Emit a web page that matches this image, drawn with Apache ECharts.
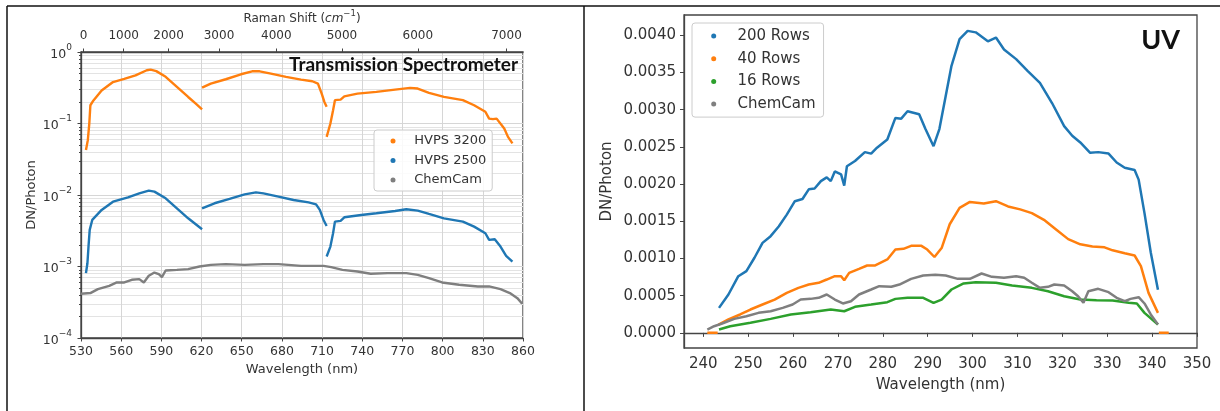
<!DOCTYPE html>
<html>
<head>
<meta charset="utf-8">
<script src="https://cdn.jsdelivr.net/npm/echarts@6/dist/echarts.min.js"></script>
<style>
html,body{margin:0;padding:0;background:#fff;}
#c{width:1220px;height:411px;}
</style>
</head>
<body>
<div id="c"></div>
<script>
// ---------- tick labels ----------
const wavelengthTicks = [530, 560, 590, 620, 650, 680, 710, 740, 770, 800, 830, 860];
const ramanTicks = [0, 1000, 2000, 3000, 4000, 5000, 6000, 7000];
const laserNm = 532;
const logDecades = [1e-4, 1e-3, 1e-2, 1e-1, 1];
const minorMultipliers = [2, 3, 4, 5, 6, 7, 8, 9];
const uvXTicks = [240, 250, 260, 270, 280, 290, 300, 310, 320, 330, 340, 350];
const uvYTicks = [0, 0.0005, 0.0010, 0.0015, 0.0020, 0.0025, 0.0030, 0.0035, 0.0040];

// ---------- Transmission spectrometer (wavelength nm, DN/photon) ----------
const hvps3200A = [[533.7,0.0425],[535.1,0.0585],[536.2,0.1],[537,0.18],[539.3,0.21],[545.4,0.29],[553.9,0.38],[562.3,0.42],[570.7,0.47],[579.1,0.555],[582,0.567],[586.2,0.54],[593.2,0.45],[601.6,0.325],[610,0.235],[615.7,0.19],[620.4,0.158]];
const hvps3200B = [[620.4,0.318],[626.9,0.361],[638.1,0.416],[649.4,0.488],[657.8,0.537],[663.4,0.537],[671.8,0.499],[683.1,0.448],[694.3,0.411],[702.7,0.39],[706.9,0.361],[709.7,0.262],[711.7,0.2],[713.4,0.171]];
const hvps3200C = [[713.4,0.065],[716.2,0.1],[718.2,0.153],[719.6,0.212],[723.8,0.216],[726.6,0.24],[736.4,0.262],[750.5,0.277],[764.5,0.298],[775.7,0.315],[781.4,0.308],[789.8,0.268],[801,0.236],[815.1,0.212],[823.5,0.18],[831.9,0.146],[834.7,0.117],[837.5,0.115],[840.3,0.117],[846,0.085],[848.8,0.065],[852.1,0.0526]];
const hvps2500A = [[533.7,0.000807],[534.8,0.00111],[535.6,0.0019],[536.5,0.00325],[538.4,0.00448],[545.4,0.00618],[553.9,0.00807],[565.1,0.00927],[573.5,0.01055],[580.6,0.01149],[584.8,0.01114],[593.2,0.00898],[601.6,0.00652],[610,0.00472],[620.4,0.00332]];
const hvps2500B = [[620.4,0.00652],[629.7,0.00766],[640.9,0.0088],[652.2,0.0102],[660.6,0.0109],[666.2,0.01055],[677.4,0.00948],[688.7,0.00851],[699.9,0.0079],[705.5,0.00741],[708.3,0.00618],[711.1,0.00448],[713.4,0.00369]];
const hvps2500C = [[713.4,0.00138],[716.2,0.0019],[718.2,0.00292],[719.6,0.00425],[723.8,0.00434],[726.6,0.00488],[739.2,0.00526],[750.5,0.00555],[764.5,0.00598],[772.9,0.00631],[781.4,0.00604],[789.8,0.00543],[801,0.00472],[815.1,0.00425],[823.5,0.00361],[831.9,0.00292],[834.7,0.00236],[838.9,0.0024],[843.2,0.0019],[847.4,0.00141],[852.1,0.00117]];
const chemcamVis = [[530,0.000416],[537,0.000425],[542.6,0.000483],[551.1,0.000537],[556.7,0.000598],[562.3,0.000598],[567.9,0.000652],[573.5,0.000666],[576.9,0.000598],[580.6,0.000741],[584.8,0.000824],[588.1,0.000782],[590.4,0.00071],[593.2,0.000879],[601.6,0.000898],[610,0.000918],[618.5,0.001],[626.9,0.001055],[638.1,0.00108],[652.2,0.001055],[666.2,0.00108],[677.4,0.00108],[694.3,0.00102],[711.1,0.00102],[716.8,0.00098],[725.2,0.000898],[736.4,0.000851],[746.3,0.000791],[758.9,0.000807],[772.9,0.000807],[781.4,0.000765],[789.8,0.000688],[799.6,0.000598],[812.3,0.000555],[826.3,0.000526],[834.7,0.000526],[843.2,0.000483],[850.2,0.000425],[855.8,0.000361],[859.4,0.000301]];

// ---------- UV (wavelength nm, DN/photon) ----------
const uv200 = [[243.5,0.000336],[245.6,0.000516],[247.8,0.000762],[249.6,0.00083],[251.4,0.00101],[253.2,0.00121],[255,0.0013],[256.8,0.00143],[258.6,0.00159],[260.4,0.00177],[262.1,0.0018],[263.5,0.00193],[264.8,0.00194],[266.2,0.00204],[267.5,0.00209],[268.4,0.00204],[269.3,0.00217],[270.7,0.00213],[271.4,0.00198],[272,0.00224],[273.8,0.00231],[276,0.00243],[277.4,0.00241],[278.7,0.00249],[281,0.0026],[282.8,0.00289],[284.1,0.00288],[285.5,0.00298],[286.8,0.00296],[288.1,0.00294],[289.5,0.00274],[291.3,0.00251],[292.6,0.00274],[294,0.00318],[295.3,0.00359],[297.1,0.00395],[298.9,0.00406],[300.7,0.00404],[303.4,0.00392],[305.2,0.00397],[307,0.00381],[309.7,0.00368],[312.3,0.00352],[315,0.00336],[317.7,0.00309],[320.4,0.00278],[322.2,0.00265],[324,0.00256],[326.2,0.00242],[328,0.00243],[330.3,0.00241],[332.1,0.00229],[333.9,0.00222],[336.1,0.00219],[337,0.00206],[338.3,0.00161],[339.7,0.00108],[341.3,0.00058]];
const uv40 = [[243.4,0.000112],[245.6,0.00018],[248.2,0.000247],[250.5,0.000314],[253.2,0.000381],[255.9,0.000448],[258.6,0.000538],[261.2,0.000605],[263.5,0.00065],[265.7,0.000673],[267.5,0.000717],[269.3,0.000762],[270.7,0.000762],[271.4,0.000708],[272.5,0.000807],[274.7,0.000861],[276.5,0.000906],[278.3,0.000906],[281,0.000987],[282.8,0.00112],[284.6,0.00113],[286.3,0.00117],[288.6,0.00117],[289.9,0.00112],[291.5,0.00102],[293.1,0.00114],[294.9,0.00146],[297.1,0.00168],[299.4,0.00176],[302.5,0.00174],[305.2,0.00177],[307.9,0.0017],[310.6,0.00166],[313.2,0.00161],[315.9,0.00152],[318.6,0.00139],[321.3,0.00126],[324,0.00119],[326.7,0.00116],[329.4,0.00115],[331.2,0.00111],[333.9,0.00107],[336.1,0.00104],[337.5,0.000897],[339.2,0.000538],[341.3,0.000269]];
const uv40ZeroLow = [[240.9,0],[243.2,0]];
const uv40ZeroHigh = [[341.5,0],[343.7,0]];
const uv16 = [[243.5,0.0000448],[246,0.0000897],[250.5,0.000135],[255,0.000188],[259.5,0.000247],[263.9,0.000278],[268.4,0.000314],[271.4,0.000291],[273.8,0.00035],[277.4,0.000381],[281,0.000413],[282.8,0.000457],[285.5,0.000471],[289,0.000471],[291.3,0.000404],[293.1,0.000448],[295.3,0.000583],[298,0.000664],[300.7,0.000682],[305.2,0.000673],[308.8,0.000637],[313.2,0.000605],[316.8,0.00056],[320.4,0.000493],[324,0.000448],[327.6,0.000439],[331.2,0.000435],[334.8,0.000404],[336.6,0.000395],[338.3,0.000269],[341.3,0.000112]];
const chemcamUV = [[240.9,0.0000448],[242.4,0.0000897],[244.2,0.000126],[246.9,0.000188],[249.6,0.000224],[252.3,0.000269],[255,0.000291],[257.7,0.000336],[259.9,0.000381],[261.7,0.000448],[263.9,0.000457],[265.7,0.000471],[267.5,0.000516],[269.3,0.000448],[271.1,0.000395],[272.9,0.000426],[274.7,0.000516],[277.4,0.000583],[279.2,0.000628],[281.9,0.000619],[283.7,0.00065],[286.3,0.000726],[289,0.000771],[291.7,0.00078],[294,0.000771],[296.7,0.000726],[299.4,0.000726],[302,0.000798],[304.3,0.000753],[307,0.00074],[309.7,0.000762],[311.5,0.00074],[313.2,0.000673],[315,0.000605],[316.8,0.000619],[318.2,0.00065],[320.4,0.000637],[322.2,0.00056],[323.5,0.000493],[324.7,0.000404],[325.8,0.00056],[328,0.000592],[330.3,0.000547],[332.1,0.000471],[333.9,0.000426],[335.2,0.000457],[337,0.00048],[338.3,0.000395],[339.7,0.000247],[341.3,0.000112]];

// ---------- helpers ----------
const FONT = 'DejaVu Sans';
const C_BLUE = '#1f77b4', C_ORANGE = '#ff7f0e', C_GREEN = '#2ca02c', C_GRAY = '#7f7f7f';
const ramanToNm = s => 1 / (1 / laserNm - s * 1e-7);
const nmToRaman = nm => 1e7 / laserNm - 1e7 / nm;
const ramanTickNm = ramanTicks.map(ramanToNm);
const minorLogTicks = [];
logDecades.slice(0, -1).forEach(d => minorMultipliers.forEach(m => minorLogTicks.push(d * m)));
const supMinus = e => (e < 0 ? '\u2212' + (-e) : String(e));

function line(name, data, color, x, y, w) {
  return {
    name, type: 'line', data, xAxisIndex: x, yAxisIndex: y,
    showSymbol: false, symbol: 'circle', symbolSize: 4,
    lineStyle: { color, width: w }, itemStyle: { color },
    silent: true, z: 3
  };
}

const axisTxt = { color: '#333', fontFamily: FONT };
const spine = { show: true, lineStyle: { color: '#444', width: 1.3 } };

const option = {
  animation: false,
  backgroundColor: '#fff',
  textStyle: { fontFamily: FONT },
  grid: [
    { left: 81, top: 52, width: 442, height: 286, show: true, borderColor: '#444', borderWidth: 1.3, backgroundColor: 'transparent' },
    { left: 684, top: 15, width: 513, height: 333, show: true, borderColor: '#444', borderWidth: 1.3, backgroundColor: 'transparent' }
  ],
  xAxis: [
    {
      gridIndex: 0, type: 'value', min: 530, max: 860, position: 'bottom',
      name: 'Wavelength (nm)', nameLocation: 'middle', nameGap: 25,
      nameTextStyle: Object.assign({ fontSize: 13 }, axisTxt),
      axisLine: spine,
      axisTick: { show: true, length: 3.5, customValues: wavelengthTicks, lineStyle: { color: '#444' } },
      axisLabel: Object.assign({ fontSize: 12.5, margin: 7, customValues: wavelengthTicks }, axisTxt),
      splitLine: { show: true, lineStyle: { color: '#d6d6d6', width: 1 } }
    },
    {
      gridIndex: 0, type: 'value', min: 530, max: 860, position: 'top',
      name: '{n|Raman Shift (}{i|cm}{s|\u22121}{n|)}', nameLocation: 'middle', nameGap: 26,
      nameTextStyle: {
        rich: {
          n: { fontSize: 12, color: '#333', fontFamily: FONT, padding: [4, 0, 0, 0] },
          i: { fontSize: 12, color: '#333', fontFamily: FONT, fontStyle: 'italic', padding: [4, 0, 0, 0] },
          s: { fontSize: 8.5, color: '#333', fontFamily: FONT, verticalAlign: 'top' }
        }
      },
      axisLine: spine,
      axisTick: { show: true, length: 3.5, customValues: ramanTickNm, lineStyle: { color: '#444' } },
      axisLabel: Object.assign({ fontSize: 12, margin: 10, customValues: ramanTickNm,
        formatter: v => String(Math.round(nmToRaman(v) / 100) * 100) }, axisTxt),
      splitLine: { show: false }
    },
    {
      gridIndex: 1, type: 'value', min: 235.7, max: 350,
      name: 'Wavelength (nm)', nameLocation: 'middle', nameGap: 30,
      nameTextStyle: Object.assign({ fontSize: 15 }, axisTxt),
      axisLine: spine,
      axisTick: { show: true, length: 4, customValues: uvXTicks, lineStyle: { color: '#444' } },
      axisLabel: Object.assign({ fontSize: 15, margin: 9, customValues: uvXTicks }, axisTxt),
      splitLine: { show: false }
    }
  ],
  yAxis: [
    {
      gridIndex: 0, type: 'log', logBase: 10, min: 1e-4, max: 1,
      name: 'DN/Photon', nameLocation: 'middle', nameGap: 43,
      nameTextStyle: Object.assign({ fontSize: 13 }, axisTxt),
      axisLine: spine,
      axisTick: { show: true, length: 3.5, customValues: logDecades, lineStyle: { color: '#444' } },
      axisLabel: {
        margin: 9, customValues: logDecades,
        formatter: v => '{b|10}{s|' + supMinus(Math.round(Math.log10(v))) + '}',
        rich: {
          b: { fontSize: 12.5, color: '#333', fontFamily: FONT, padding: [5, 0, 0, 0] },
          s: { fontSize: 9, color: '#333', fontFamily: FONT, verticalAlign: 'top' }
        }
      },
      splitLine: { show: true, lineStyle: { color: '#d6d6d6', width: 1 } }
    },
    {
      gridIndex: 0, type: 'log', logBase: 10, min: 1e-4, max: 1, position: 'left',
      axisLine: { show: false },
      axisTick: { show: true, length: 2, customValues: minorLogTicks, lineStyle: { color: '#444' } },
      axisLabel: { show: false },
      splitLine: { show: true, lineStyle: { color: '#e3e3e3', width: 1 } }
    },
    {
      gridIndex: 1, type: 'value', min: -0.0002035, max: 0.0042735,
      name: 'DN/Photon', nameLocation: 'middle', nameGap: 69,
      nameTextStyle: Object.assign({ fontSize: 15 }, axisTxt),
      axisLine: spine,
      axisTick: { show: true, length: 4, customValues: uvYTicks, lineStyle: { color: '#444' } },
      axisLabel: Object.assign({ fontSize: 15, margin: 8, customValues: uvYTicks,
        formatter: v => v.toFixed(4) }, axisTxt),
      splitLine: { show: false }
    }
  ],
  legend: [
    {
      data: ['HVPS 3200', 'HVPS 2500', 'ChemCam'],
      orient: 'vertical', left: 374, top: 130, icon: 'circle',
      itemWidth: 32.5, itemHeight: 5, itemGap: 5.5,
      padding: [4, 6, 4, 16.5],
      textStyle: { fontSize: 13, lineHeight: 14, color: '#333', fontFamily: FONT },
      borderColor: '#cccccc', borderWidth: 1, borderRadius: 3,
      backgroundColor: 'rgba(255,255,255,0.85)', selectedMode: false
    },
    {
      data: ['200 Rows', '40 Rows', '16 Rows', 'ChemCam'],
      orient: 'vertical', left: 692, top: 23, icon: 'circle',
      itemWidth: 37.5, itemHeight: 5, itemGap: 5.7,
      padding: [4.5, 8, 4.5, 19.2],
      textStyle: { fontSize: 15, lineHeight: 17, color: '#333', fontFamily: FONT },
      borderColor: '#cccccc', borderWidth: 1, borderRadius: 3,
      backgroundColor: 'rgba(255,255,255,0.85)', selectedMode: false
    }
  ],
  series: [
    line('HVPS 3200', hvps3200A, C_ORANGE, 0, 0, 2.4),
    line('HVPS 3200', hvps3200B, C_ORANGE, 0, 0, 2.4),
    line('HVPS 3200', hvps3200C, C_ORANGE, 0, 0, 2.4),
    line('HVPS 2500', hvps2500A, C_BLUE, 0, 0, 2.4),
    line('HVPS 2500', hvps2500B, C_BLUE, 0, 0, 2.4),
    line('HVPS 2500', hvps2500C, C_BLUE, 0, 0, 2.4),
    line('ChemCam', chemcamVis, C_GRAY, 0, 0, 2.4),
    line('200 Rows', uv200, C_BLUE, 2, 2, 2.5),
    line('40 Rows', uv40, C_ORANGE, 2, 2, 2.5),
    line('40 Rows', uv40ZeroLow, C_ORANGE, 2, 2, 2.5),
    line('40 Rows', uv40ZeroHigh, C_ORANGE, 2, 2, 2.5),
    line('16 Rows', uv16, C_GREEN, 2, 2, 2.5),
    line('ChemCam', chemcamUV, C_GRAY, 2, 2, 2.5)
  ],
  graphic: [
    { type: 'line', shape: { x1: 7, y1: 6, x2: 1220, y2: 6 }, style: { stroke: '#111', lineWidth: 1.5 }, silent: true },
    { type: 'line', shape: { x1: 7, y1: 6, x2: 7, y2: 411 }, style: { stroke: '#111', lineWidth: 1.5 }, silent: true },
    { type: 'line', shape: { x1: 584, y1: 6, x2: 584, y2: 411 }, style: { stroke: '#111', lineWidth: 1.5 }, silent: true },
    { type: 'text', x: 518, y: 65, z: 10, style: { text: 'Transmission Spectrometer', font: 'bold 19px Lato', fill: '#111', align: 'right', verticalAlign: 'middle' }, silent: true },
    { type: 'text', x: 1180, y: 40, z: 10, style: { text: 'UV', font: 'bold 27px Lato', fill: '#111', align: 'right', verticalAlign: 'middle' }, silent: true }
  ]
};

const chart = echarts.init(document.getElementById('c'), null, { renderer: 'canvas' });
chart.setOption(option);
</script>
</body>
</html>
